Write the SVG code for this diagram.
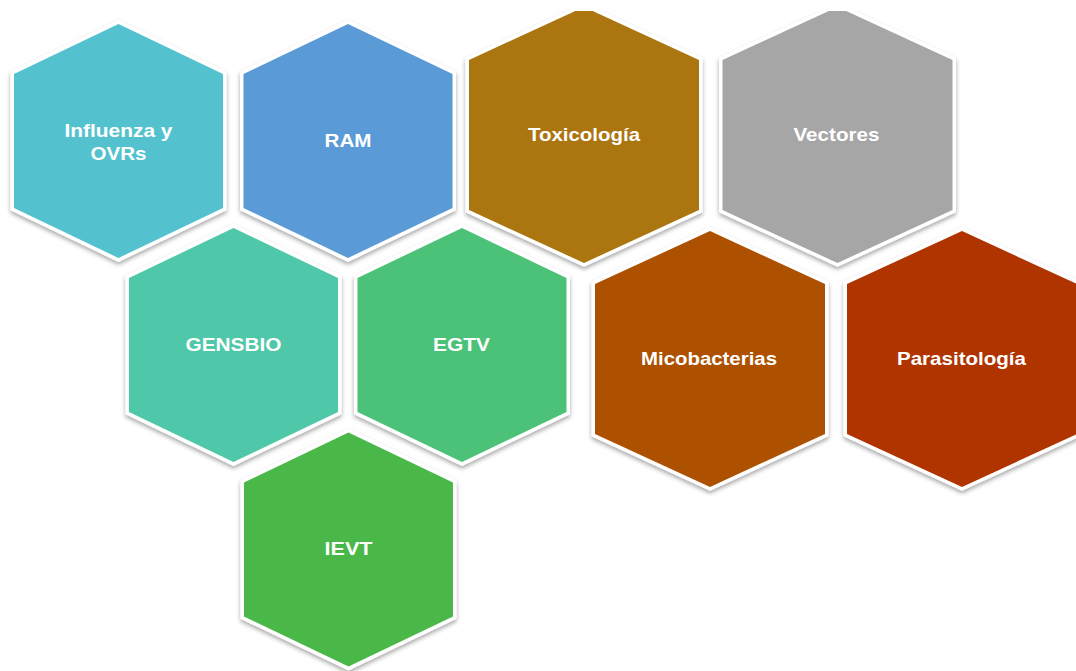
<svg xmlns="http://www.w3.org/2000/svg" xmlns:xlink="http://www.w3.org/1999/xlink" width="1076" height="671" viewBox="0 0 1076 671">
<style>
.edge{fill:#fff;stroke:#fff;stroke-width:7;stroke-linejoin:miter;filter:url(#sh)}
.lbl{font-family:"Liberation Sans",Arial,sans-serif;font-weight:bold;font-size:18.5px;fill:#fff;text-anchor:middle}
</style>
<defs>
<filter id="sh" x="-20%" y="-20%" width="140%" height="140%">
<feDropShadow dx="0" dy="2.5" stdDeviation="2" flood-color="#000" flood-opacity="0.35"/>
</filter>
<polygon id="hs" points="0,-117 104.5,-67 104.5,67 0,117 -104.5,67 -104.5,-67"/>
<polygon id="hl" points="0,-128 115,-75 115,75 0,128 -115,75 -115,-75"/>
<clipPath id="clipTop"><rect x="0" y="11" width="1076" height="660"/></clipPath>
</defs>
<rect width="1076" height="671" fill="#fff"/>
<g id="connectors"/>
<g id="n-influenza" transform="translate(118.5,141)">
<use href="#hs" class="edge"/><use href="#hs" fill="#54C2CE"/>
<text class="lbl" x="0" y="-4" textLength="108" lengthAdjust="spacingAndGlyphs">Influenza y</text>
<text class="lbl" x="0" y="19" textLength="56" lengthAdjust="spacingAndGlyphs">OVRs</text>
</g>
<g id="n-ram" transform="translate(348,141)">
<use href="#hs" class="edge"/><use href="#hs" fill="#5A9AD6"/>
<text class="lbl" x="0" y="6" textLength="47" lengthAdjust="spacingAndGlyphs">RAM</text>
</g>
<g clip-path="url(#clipTop)">
<g id="n-toxicologia" transform="translate(584,135)">
<use href="#hl" class="edge"/><use href="#hl" fill="#AB7510"/>
<text class="lbl" x="0" y="6" textLength="112" lengthAdjust="spacingAndGlyphs">Toxicología</text>
</g>
<g id="n-vectores" transform="translate(837.5,135)">
<use href="#hl" class="edge"/><use href="#hl" fill="#A6A6A6"/>
<text class="lbl" x="-1" y="6" textLength="86" lengthAdjust="spacingAndGlyphs">Vectores</text>
</g>
</g>
<g id="n-gensbio" transform="translate(233.5,345)">
<use href="#hs" class="edge"/><use href="#hs" fill="#4EC8A8"/>
<text class="lbl" x="0" y="6" textLength="96" lengthAdjust="spacingAndGlyphs">GENSBIO</text>
</g>
<g id="n-egtv" transform="translate(462,345)">
<use href="#hs" class="edge"/><use href="#hs" fill="#4BC278"/>
<text class="lbl" x="-0.5" y="6" textLength="57" lengthAdjust="spacingAndGlyphs">EGTV</text>
</g>
<g id="n-ievt" transform="translate(348.5,549.5)">
<use href="#hs" class="edge"/><use href="#hs" fill="#49B848"/>
<text class="lbl" x="0" y="5.5" textLength="48" lengthAdjust="spacingAndGlyphs">IEVT</text>
</g>
<g id="n-micobacterias" transform="translate(710,359)">
<use href="#hl" class="edge"/><use href="#hl" fill="#AD5100"/>
<text class="lbl" x="-1" y="6" textLength="136" lengthAdjust="spacingAndGlyphs">Micobacterias</text>
</g>
<g id="n-parasitologia" transform="translate(962,359)">
<use href="#hl" class="edge"/><use href="#hl" fill="#B03400"/>
<text class="lbl" x="-0.5" y="6" textLength="129" lengthAdjust="spacingAndGlyphs">Parasitología</text>
</g>
</svg>
